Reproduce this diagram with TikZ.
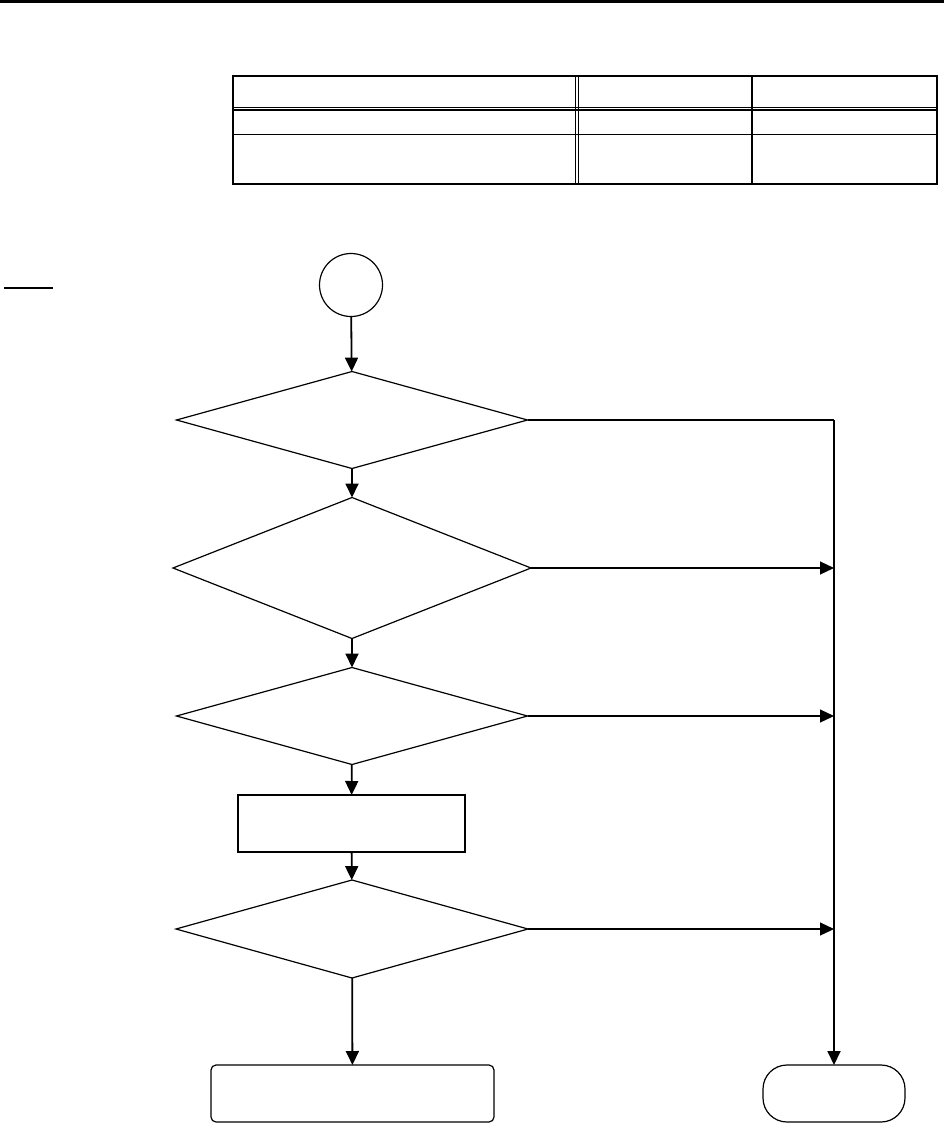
\documentclass[tikz,border=0pt]{standalone}
\usetikzlibrary{shapes.geometric, arrows.meta, positioning}

\begin{document}
\begin{tikzpicture}[x=1pt, y=-1pt, line width=1.2pt,
    decision/.style={diamond, draw, inner sep=0, outer sep=0},
    process/.style={rectangle, draw, inner sep=0, outer sep=0},
    flow/.style={line width=1.8pt, -{Triangle[length=14pt, width=13pt]}},
    branch/.style={line width=1.2pt, -{Triangle[length=14pt, width=13pt]}}]

  % Page frame
  \useasboundingbox (0,0) rectangle (947,1124);
  \draw[line width=2.6pt] (0,1.3) -- (944,1.3);

  % Table
  \draw (233,76) rectangle (937,184);
  \draw (575.5,76) -- (575.5,184);
  \draw (578.5,76) -- (578.5,184);
  \draw (752,76) -- (752,184);
  \draw (233,107.5) -- (937,107.5);
  \draw (233,110) -- (937,110);
  \draw (233,134.5) -- (937,134.5);

  % Heading rule
  \draw (4,288) -- (53,288);

  % Start
  \node[circle, draw, inner sep=0, outer sep=0, minimum size=63pt] (start) at (351,285) {};

  % Decisions
  \node[decision, minimum width=351pt, minimum height=97pt] (d1) at (352,420) {};
  \node[decision, minimum width=358pt, minimum height=141pt] (d2) at (352,568) {};
  \node[decision, minimum width=351pt, minimum height=97pt] (d3) at (352,716) {};
  \node[process, minimum width=227pt, minimum height=57pt] (work) at (351.5,823.5) {};
  \node[decision, minimum width=352pt, minimum height=98pt] (d4) at (352,929) {};

  % Ends
  \node[process, rounded corners=5pt, minimum width=283pt, minimum height=57pt] (done) at (352.5,1093.5) {};
  \node[process, rounded corners=24pt, minimum width=142pt, minimum height=57pt] (stop) at (834,1093.5) {};

  % Main flow
  \draw[flow] (start) -- (d1);
  \draw[flow] (d1) -- (d2);
  \draw[flow] (d2) -- (d3);
  \draw[flow] (d3) -- (work);
  \draw[flow] (work) -- (d4);
  \draw[flow] (d4) -- (done);

  % Exit line
  \coordinate (bus) at (d1.east -| stop.north);
  \draw (d1.east) -- (bus);
  \draw[flow] (bus) -- (stop);
  \draw[branch] (d2.east) -- (d2.east -| stop.north);
  \draw[branch] (d3.east) -- (d3.east -| stop.north);
  \draw[branch] (d4.east) -- (d4.east -| stop.north);

\end{tikzpicture}
\end{document}
